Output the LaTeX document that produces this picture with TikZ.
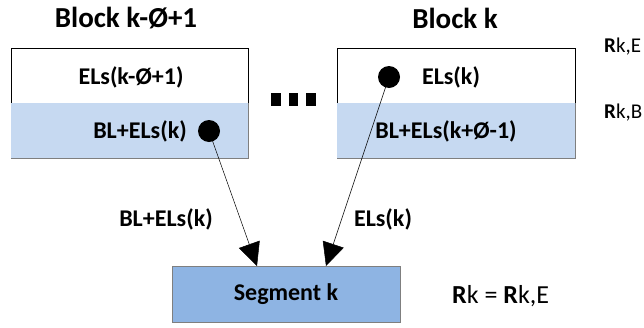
\documentclass[tikz,border=0pt]{standalone}
\usepackage{fontspec}
\setmainfont{Carlito}
\usetikzlibrary{arrows.meta}
\definecolor{bandblue}{HTML}{C6D9F1}
\definecolor{segblue}{HTML}{8EB4E3}
\definecolor{edgegray}{HTML}{7F7F7F}
\begin{document}
\begin{tikzpicture}[x=1pt,y=-1pt,
  title/.style={font=\bfseries\fontsize{29}{31}\selectfont},
  boxtext/.style={font=\bfseries\fontsize{24}{26}\selectfont},
  rlabel/.style={font=\fontsize{21}{23}\selectfont, anchor=west, inner sep=0pt},
  rbig/.style={font=\fontsize{26}{28}\selectfont, anchor=west, inner sep=0pt},
  topband/.style={draw=black, line width=1pt, fill=white},
  lowband/.style={fill=bandblue},
  pin/.style={circle, fill=black, inner sep=0pt, minimum size=22pt},
  feed/.style={-{Triangle[length=23pt,width=22pt]}, line width=0.5pt},
  sq/.style={fill=black}]
\useasboundingbox (0,0) rectangle (644,327);

% titles
\node[title] (t1) at (126,18) {Block k-Ø+1};
\node[title] (t2) at (455,18) {Block k};

% left block
\draw[topband] (11,103) -- (11,48) -- (248,48) -- (248,103);
\fill[lowband] (11,103) rectangle (248,158);
\draw[edgegray, line width=1pt] (11,158) -- (248,158) -- (248,103);
\node[boxtext] (l1) at (131,77) {ELs(k-Ø+1)};
\node[boxtext] (l2) at (140,131) {BL+ELs(k)};
\node[pin] (d1) at (209,131) {};

% right block
\draw[topband] (337,103) -- (337,48) -- (575,48) -- (575,103);
\fill[lowband] (337,103) rectangle (575,158);
\draw[edgegray, line width=1pt] (337,158) -- (575,158) -- (575,103);
\node[boxtext] (r1) at (451,77) {ELs(k)};
\node[boxtext] (r2) at (446,131) {BL+ELs(k+Ø-1)};
\node[pin] (d2) at (389,77) {};

% ellipsis between blocks
\fill[sq] (271,93) rectangle (281,106);
\fill[sq] (289,93) rectangle (298,106);
\fill[sq] (306,93) rectangle (316,106);

% segment
\node[draw=edgegray, line width=1pt, fill=segblue, minimum width=228pt,
      minimum height=56pt, boxtext] (seg) at (286,294) {Segment k};

% connectors
\coordinate (s1) at (257,266);
\coordinate (s2) at (326,266);
\draw[feed] (d1.center) -- (s1);
\draw[feed] (d2.center) -- (s2);
\node[boxtext] (a1) at (166,219) {BL+ELs(k)};
\node[boxtext] (a2) at (383,219) {ELs(k)};

% rate labels
\node[rlabel] (re) at (604,47) {\textbf{R}k,E};
\node[rlabel] (rb) at (604,113) {\textbf{R}k,B};
\node[rbig] (rk) at (452,296) {\textbf{R}k = \textbf{R}k,E};
\end{tikzpicture}
\end{document}
